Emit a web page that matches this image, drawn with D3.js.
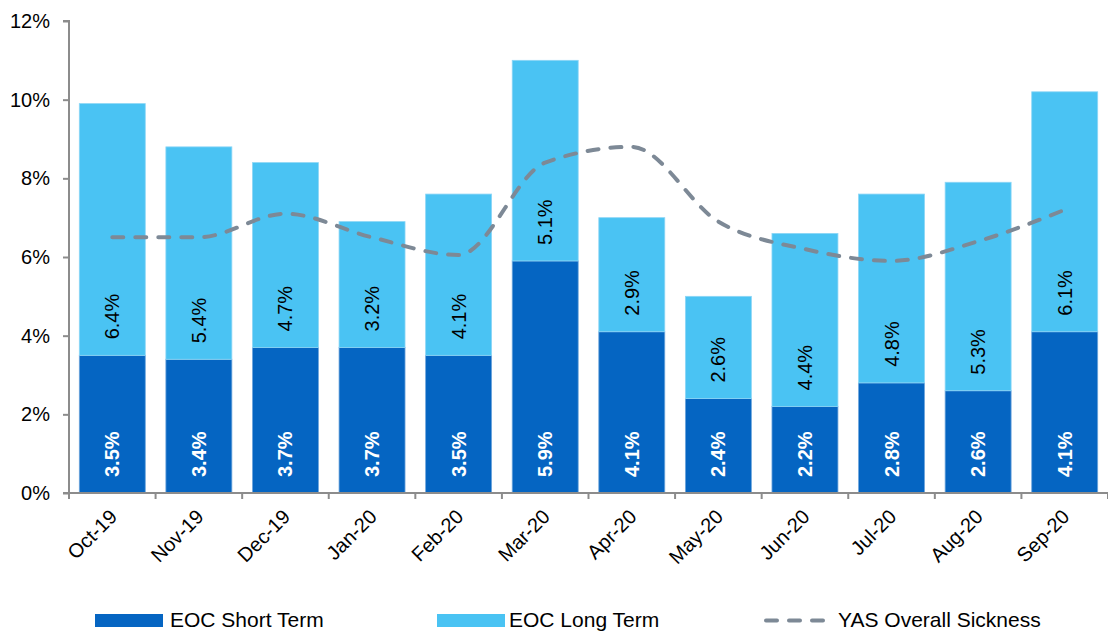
<!DOCTYPE html>
<html>
<head>
<meta charset="utf-8">
<script src="https://cdn.jsdelivr.net/npm/d3@7"></script>
<style>
  html, body { margin: 0; padding: 0; background: #fff; }
  svg { display: block; font-family: "Liberation Sans", Arial, sans-serif; }
</style>
</head>
<body>
<svg id="chart" width="1108" height="631"></svg>
<script>
// Monthly sickness rates (%)
const months = ["Oct-19", "Nov-19", "Dec-19", "Jan-20", "Feb-20", "Mar-20",
                "Apr-20", "May-20", "Jun-20", "Jul-20", "Aug-20", "Sep-20"];
const shortTerm = [3.5, 3.4, 3.7, 3.7, 3.5, 5.9, 4.1, 2.4, 2.2, 2.8, 2.6, 4.1];
const longTerm  = [6.4, 5.4, 4.7, 3.2, 4.1, 5.1, 2.9, 2.6, 4.4, 4.8, 5.3, 6.1];
const overall   = [6.5, 6.5, 7.1, 6.5, 6.05, 8.4, 8.8, 6.9, 6.2, 5.9, 6.4, 7.2];
const yTicks    = [0, 2, 4, 6, 8, 10, 12];
const seriesNames = ["EOC Short Term", "EOC Long Term", "YAS Overall Sickness"];

const colShort = "#0565C2";
const colLong  = "#4AC3F3";
const colLine  = "#7D8996";
const colAxis  = "#8C8C8C";

const svg = d3.select("#chart");
const plotLeft = 69, plotRight = 1108, plotTop = 21, plotBottom = 493;

const x = d3.scaleBand().domain(months).range([plotLeft, plotRight])
  .paddingInner(0.238).paddingOuter(0.119);
const y = d3.scaleLinear().domain([0, 12]).range([plotBottom, plotTop]);

const rows = months.map((m, i) => ({ m, s: shortTerm[i], l: longTerm[i], o: overall[i] }));

// stacked bars
const g = svg.append("g");
g.selectAll("rect.short").data(rows).join("rect")
  .attr("x", d => x(d.m)).attr("width", x.bandwidth())
  .attr("y", d => y(d.s)).attr("height", d => y(0) - y(d.s))
  .attr("fill", colShort).attr("stroke", "#6FA6DC").attr("stroke-width", 0.8);
g.selectAll("rect.long").data(rows).join("rect")
  .attr("x", d => x(d.m)).attr("width", x.bandwidth())
  .attr("y", d => y(d.s + d.l)).attr("height", d => y(d.s) - y(d.s + d.l))
  .attr("fill", colLong).attr("stroke", "#8DD6F6").attr("stroke-width", 0.8);

// axes
const yAxis = svg.append("g").attr("transform", `translate(${plotLeft},0)`)
  .call(d3.axisLeft(y).tickValues(yTicks).tickSize(6).tickPadding(13).tickFormat(d => d + "%"));
yAxis.selectAll("text").attr("font-size", 20).attr("fill", "#000")
  .attr("font-family", "Liberation Sans, Arial, sans-serif");

const xAxis = svg.append("g").attr("transform", `translate(0,${plotBottom})`)
  .call(d3.axisBottom(x).tickSize(0).tickFormat(""));
// category boundary ticks
xAxis.selectAll("line.bound").data(d3.range(months.length + 1)).join("line")
  .attr("class", "bound")
  .attr("x1", i => plotLeft + i * x.step()).attr("x2", i => plotLeft + i * x.step())
  .attr("y1", 0).attr("y2", 6);
[yAxis, xAxis].forEach(a => {
  a.select(".domain").attr("stroke", colAxis).attr("stroke-width", 2);
  a.selectAll("line").attr("stroke", colAxis).attr("stroke-width", 2);
});
yAxis.select(".domain").attr("d", `M-6,${plotTop}H0V${plotBottom}H-6`);
xAxis.select(".domain").attr("d", `M${plotLeft},6V0H${plotRight}`);

// rotated month labels
svg.append("g").selectAll("text").data(months).join("text")
  .attr("transform", m => `translate(${x(m) + x.bandwidth() / 2 + 6},${plotBottom + 25}) rotate(-45)`)
  .attr("text-anchor", "end").attr("font-size", 20).attr("fill", "#000")
  .text(m => m);

// data labels, placed inside the base of each segment
svg.append("g").selectAll("text").data(rows).join("text")
  .attr("transform", d => `translate(${x(d.m) + x.bandwidth() / 2},${y(0) - 16}) rotate(-90)`)
  .attr("dominant-baseline", "central").attr("font-size", 20)
  .attr("font-weight", "bold").attr("fill", "#fff")
  .text(d => d.s.toFixed(1) + "%");
svg.append("g").selectAll("text").data(rows).join("text")
  .attr("transform", d => `translate(${x(d.m) + x.bandwidth() / 2},${y(d.s) - 16}) rotate(-90)`)
  .attr("dominant-baseline", "central").attr("font-size", 20).attr("fill", "#000")
  .text(d => d.l.toFixed(1) + "%");

// overall sickness line
const line = d3.line()
  .x(d => x(d.m) + x.bandwidth() / 2).y(d => y(d.o))
  .curve(d3.curveMonotoneX);
svg.append("path").datum(rows).attr("d", line)
  .attr("fill", "none").attr("stroke", colLine).attr("stroke-width", 4)
  .attr("stroke-dasharray", "11,12").attr("stroke-linecap", "round");

// legend
const lg = svg.append("g").attr("font-size", 21).attr("fill", "#000");
const ly = 620.5;
lg.append("rect").attr("x", 95).attr("y", ly - 6.5).attr("width", 68).attr("height", 13).attr("fill", colShort);
lg.append("text").attr("x", 170).attr("y", 627).text(seriesNames[0]);
lg.append("rect").attr("x", 437).attr("y", ly - 6.5).attr("width", 68).attr("height", 13).attr("fill", colLong);
lg.append("text").attr("x", 509).attr("y", 627).text(seriesNames[1]);
lg.append("line").attr("x1", 766).attr("x2", 834).attr("y1", ly).attr("y2", ly)
  .attr("stroke", colLine).attr("stroke-width", 4).attr("stroke-dasharray", "11,12")
  .attr("stroke-linecap", "round");
lg.append("text").attr("x", 838).attr("y", 627).text(seriesNames[2]);
</script>
</body>
</html>
